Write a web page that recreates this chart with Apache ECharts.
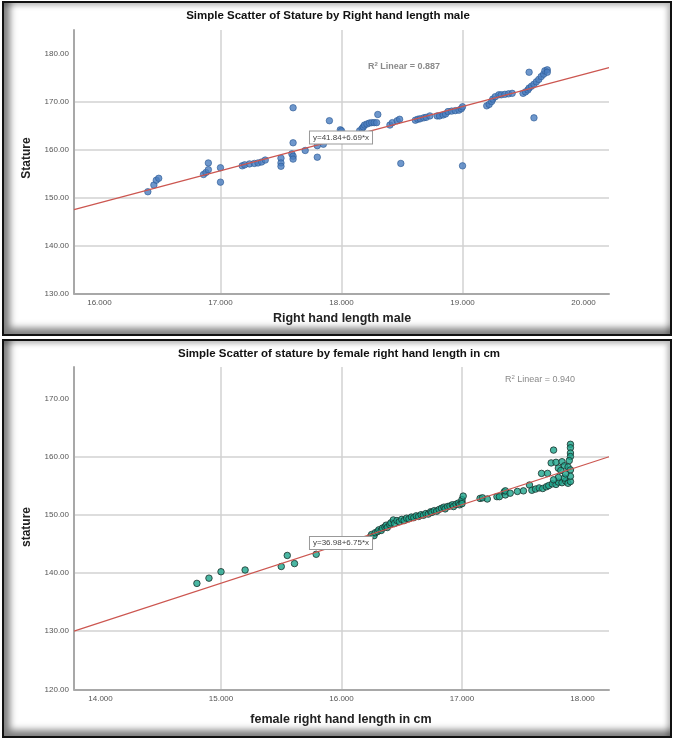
<!DOCTYPE html>
<html>
<head>
<meta charset="utf-8">
<script src="https://cdn.jsdelivr.net/npm/echarts@6/dist/echarts.min.js"></script>
<style>
html,body{margin:0;padding:0;background:#fff;width:674px;height:739px;overflow:hidden;}
.panel{position:absolute;left:2px;width:670px;box-sizing:border-box;border:2px solid #111;background:#fff;
 box-shadow: inset 6px -6px 7px rgba(0,0,0,0.5), inset -3px 3px 5px rgba(0,0,0,0.25);}
#chart{position:absolute;left:0;top:0;width:674px;height:739px;}
</style>
</head>
<body>
<div class="panel" style="top:1px;height:335px"></div>
<div class="panel" style="top:339px;height:399px"></div>
<div id="chart"></div>
<script>
// ---------- data ----------
const maleHand = [16.40,16.45,16.47,16.49,16.86,16.88,16.90,16.90,17.00,17.00,
  17.18,17.20,17.24,17.28,17.31,17.34,17.37,17.50,17.50,17.50,
  17.59,17.60,17.60,17.60,17.60,17.70,17.80,17.80,17.85,17.90,
  17.99,18.00,18.15,18.17,18.18,18.19,18.21,18.23,18.25,18.27,18.29,18.30,
  18.40,18.42,18.46,18.48,18.49,18.61,18.63,18.65,18.68,18.70,18.73,
  18.79,18.81,18.84,18.86,18.88,18.91,18.94,18.97,18.99,19.00,19.00,
  19.20,19.22,19.24,19.25,19.27,19.30,19.32,19.35,19.38,19.41,
  19.50,19.52,19.54,19.55,19.57,19.59,19.61,19.63,19.65,19.67,19.68,19.70,19.70,19.55,19.59];
const maleStature = [151.2,152.6,153.6,154.0,154.8,155.2,155.8,157.2,156.2,153.2,
  156.6,156.8,157.0,157.1,157.2,157.4,157.8,158.2,157.2,156.5,
  159.1,158.6,158.0,161.4,168.7,159.8,158.4,160.8,161.1,166.0,
  164.1,163.9,163.9,164.4,164.7,165.1,165.3,165.5,165.6,165.6,165.6,167.3,
  165.1,165.6,166.0,166.3,157.1,166.1,166.3,166.4,166.6,166.7,167.0,
  167.0,167.0,167.2,167.4,167.9,168.0,168.1,168.2,168.5,168.9,156.6,
  169.1,169.4,170.0,170.5,171.0,171.4,171.4,171.5,171.6,171.7,
  171.7,172.0,172.4,172.8,173.2,173.6,174.1,174.6,175.2,175.7,176.4,176.6,176.1,176.1,166.6];

const femaleHand = [14.80,14.90,15.00,15.20,15.50,15.55,15.61,15.79,
  16.24,16.25,16.27,16.28,16.30,16.31,16.33,16.34,16.36,16.37,16.38,16.40,16.41,16.43,16.44,16.46,16.48,16.50,
  16.52,16.54,16.56,16.58,16.60,16.62,16.64,16.66,16.68,16.70,16.72,16.74,16.75,16.77,16.79,16.81,16.83,16.85,
  16.86,16.88,16.90,16.92,16.93,16.95,16.97,16.98,17.00,17.00,17.01,17.00,
  17.15,17.17,17.21,17.29,17.31,17.35,17.36,17.36,17.40,17.46,17.51,17.56,17.58,17.61,17.64,17.67,17.70,17.72,
  17.75,17.78,17.80,17.83,17.86,17.88,17.90,17.85,17.80,17.76,
  17.66,17.71,17.74,17.78,17.83,17.80,17.85,17.88,17.76,17.90,17.90,17.90,17.90,17.89,17.90,17.90,17.82,17.86];
const femaleStature = [138.2,139.1,140.2,140.5,141.1,143.0,141.6,143.2,
  146.2,146.6,146.4,146.9,147.1,147.4,147.3,147.7,147.9,148.2,147.8,148.3,148.6,149.1,148.5,149.0,148.8,149.2,
  149.0,149.4,149.3,149.6,149.5,149.8,149.7,150.0,149.9,150.2,150.1,150.5,150.4,150.7,150.6,150.9,151.1,151.3,
  151.0,151.4,151.5,151.7,151.4,151.8,152.0,151.7,152.2,152.6,153.2,151.9,
  152.8,152.9,152.7,153.1,153.1,153.9,153.4,154.1,153.7,154.0,154.1,155.1,154.2,154.4,154.6,154.5,154.8,155.0,
  155.3,155.2,155.6,155.5,155.8,155.4,155.7,156.3,156.4,156.0,
  157.1,157.1,158.9,159.0,159.1,158.0,158.4,158.2,161.1,162.1,161.5,160.6,160.0,159.3,157.7,156.6,157.6,157.0];

const maleXTicks = [16, 17, 18, 19, 20];
const maleYTicks = [130, 140, 150, 160, 170, 180];
const femaleXTicks = [14, 15, 16, 17, 18];
const femaleYTicks = [120, 130, 140, 150, 160, 170];
const maleFit = [41.84, 6.69];     // intercept, slope
const femaleFit = [36.98, 6.75];
const maleR2 = '0.887';
const femaleR2 = '0.940';

// ---------- chart ----------
const chart = echarts.init(document.getElementById('chart'), null, {renderer: 'canvas'});
const pair = (xs, ys) => xs.map((x, i) => [x, ys[i]]);
const xr = [[15.79, 20.21], [13.78, 18.22]];
const fitLine = (fit, r) => r.map(x => [x, fit[0] + fit[1] * x]);

const FONT = '"Liberation Sans", Arial, sans-serif';
const gridLine = {show: true, showMinLine: false, showMaxLine: false, lineStyle: {color: '#d2d2d2', width: 1.5}};
const axLine = {show: true, onZero: false, lineStyle: {color: '#a8a8a8', width: 2}};
const tickLbl = {color: '#555', fontSize: 8, fontFamily: FONT};

function xAxis(gi, r, ticks) {
  return {type: 'value', gridIndex: gi, min: r[0], max: r[1],
    axisLine: axLine, axisTick: {show: false, customValues: ticks},
    axisLabel: Object.assign({customValues: ticks, margin: 5, formatter: v => v.toFixed(3)}, tickLbl),
    splitLine: gridLine};
}
function yAxis(gi, mn, mx, ticks) {
  return {type: 'value', gridIndex: gi, min: mn, max: mx,
    axisLine: axLine, axisTick: {show: false, customValues: ticks},
    axisLabel: Object.assign({customValues: ticks, margin: 5, formatter: v => v.toFixed(2)}, tickLbl),
    splitLine: gridLine};
}

const option = {
  backgroundColor: 'transparent',
  animation: false,
  grid: [
    {left: 74, top: 30, width: 535, height: 263.5},
    {left: 74, top: 367, width: 535, height: 322.3}
  ],
  xAxis: [xAxis(0, xr[0], maleXTicks), xAxis(1, xr[1], femaleXTicks)],
  yAxis: [yAxis(0, 130, 184.9, maleYTicks), yAxis(1, 120, 175.38, femaleYTicks)],
  series: [
    {type: 'scatter', xAxisIndex: 0, yAxisIndex: 0, data: pair(maleHand, maleStature),
     symbolSize: 6.5, itemStyle: {color: '#4a7dbf', borderColor: '#2c5a94', borderWidth: 0.8}, z: 3},
    {type: 'line', xAxisIndex: 0, yAxisIndex: 0, data: fitLine(maleFit, xr[0]), symbol: 'none',
     lineStyle: {color: '#cc5650', width: 1.2}, z: 4, silent: true},
    {type: 'scatter', xAxisIndex: 1, yAxisIndex: 1, data: pair(femaleHand, femaleStature),
     symbolSize: 6.5, itemStyle: {color: '#1da58c', borderColor: '#1a302b', borderWidth: 1}, z: 3},
    {type: 'line', xAxisIndex: 1, yAxisIndex: 1, data: fitLine(femaleFit, xr[1]), symbol: 'none',
     lineStyle: {color: '#cc5650', width: 1.2}, z: 4, silent: true}
  ],
  graphic: [
    {type: 'text', x: 328, y: 16, style: {text: 'Simple Scatter of Stature by Right hand length male',
      font: 'bold 11.5px ' + FONT, fill: '#111', align: 'center', verticalAlign: 'middle'}},
    {type: 'text', x: 339, y: 354, style: {text: 'Simple Scatter of stature by female right hand length in cm',
      font: 'bold 11.5px ' + FONT, fill: '#111', align: 'center', verticalAlign: 'middle'}},
    {type: 'text', x: 342, y: 319, style: {text: 'Right hand length male',
      font: 'bold 12.5px ' + FONT, fill: '#222', align: 'center', verticalAlign: 'middle'}},
    {type: 'text', x: 341, y: 720, style: {text: 'female right hand length in cm',
      font: 'bold 12.5px ' + FONT, fill: '#222', align: 'center', verticalAlign: 'middle'}},
    {type: 'text', x: 27, y: 158, rotation: Math.PI / 2, style: {text: 'Stature',
      font: 'bold 12px ' + FONT, fill: '#222', align: 'center', verticalAlign: 'middle'}},
    {type: 'text', x: 27, y: 527, rotation: Math.PI / 2, style: {text: 'stature',
      font: 'bold 12px ' + FONT, fill: '#222', align: 'center', verticalAlign: 'middle'}},
    {type: 'text', x: 404, y: 67, z: 10, style: {text: 'R{s|2} Linear = ' + maleR2,
      font: 'bold 9px ' + FONT, fill: '#8a8a8a', align: 'center', verticalAlign: 'middle',
      rich: {s: {fontSize: 6, fontWeight: 'bold', verticalAlign: 'top', fill: '#8a8a8a', padding: [0, 0, 5, 0]}}}},
    {type: 'text', x: 540, y: 380, z: 10, style: {text: 'R{s|2} Linear = ' + femaleR2,
      font: '9px ' + FONT, fill: '#8a8a8a', align: 'center', verticalAlign: 'middle',
      rich: {s: {fontSize: 6, verticalAlign: 'top', fill: '#8a8a8a', padding: [0, 0, 5, 0]}}}},
    {type: 'text', x: 341, y: 137.5, z: 10, style: {text: 'y=' + maleFit[0] + '+' + maleFit[1] + '*x',
      font: '8px ' + FONT, fill: '#444', align: 'center', verticalAlign: 'middle',
      backgroundColor: '#fff', borderColor: '#999', borderWidth: 1, padding: [2, 3]}},
    {type: 'text', x: 341, y: 543, z: 10, style: {text: 'y=' + femaleFit[0] + '+' + femaleFit[1] + '*x',
      font: '8px ' + FONT, fill: '#444', align: 'center', verticalAlign: 'middle',
      backgroundColor: '#fff', borderColor: '#999', borderWidth: 1, padding: [2, 3]}}
  ]
};
chart.setOption(option);
</script>
</body>
</html>
